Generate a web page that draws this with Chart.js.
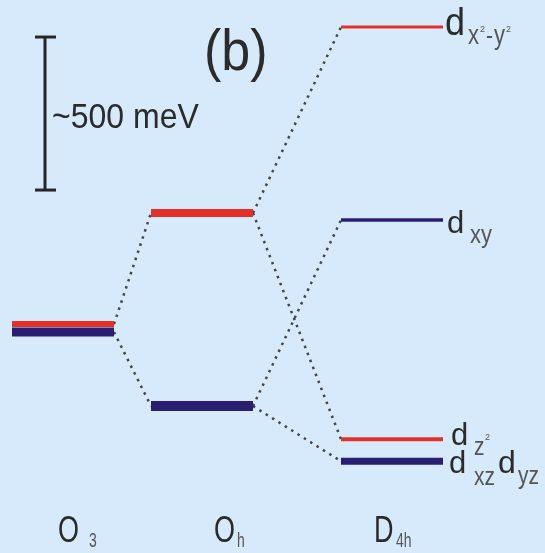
<!DOCTYPE html>
<html lang="en">
<head>
<meta charset="UTF-8">
<title>d-level splitting O3 / Oh / D4h</title>
<script src="https://cdn.jsdelivr.net/npm/chart.js@4"></script>
<style>
    body {
        margin: 0;
        padding: 0;
        background-color: #d6eafc;
    }
    .chart-box {
        width: 545px;
        height: 553px;
    }
</style>
</head>
<body>
<div class="chart-box"><canvas id="levelChart" width="545" height="553"></canvas></div>
<script>
// level energies in meV, zero = free ion (O3) level
const groups = ['O3', 'Oh', 'D4h'];
const o3Levels = [13, -13];                 // eg, t2g (drawn stacked)
const ohLevels = [376, -255];               // eg, t2g
const d4hLevels = [984, 353, -363, -435];   // dx2-y2, dxy, dz2, dxz/dyz
const scaleBar = [451, 951];                // ~500 meV

// which level joins which (group index, level index)
const links = [
    [[0, 0], [1, 0]],
    [[0, 1], [1, 1]],
    [[1, 0], [2, 0]],
    [[1, 0], [2, 2]],
    [[1, 1], [2, 1]],
    [[1, 1], [2, 3]]
];

// styles / layout
const RED = '#e5302a';
const BLUE = '#2a1e72';
const levelColors = [[RED, BLUE], [RED, BLUE], [RED, BLUE, RED, BLUE]];
const levelWidths = [[6, 9], [8, 10], [3, 3.5, 4, 7]];
const colLeft = [12, 151, 341];
const colWidth = 102;

const allLevels = [o3Levels, ohLevels, d4hLevels];
const datasets = [];

allLevels.forEach((lv, g) => {
    lv.forEach((e, i) => {
        datasets.push({
            data: [{ x: colLeft[g], y: e }, { x: colLeft[g] + colWidth, y: e }],
            borderColor: levelColors[g][i],
            borderWidth: levelWidths[g][i],
            borderCapStyle: 'butt',
            order: 0
        });
    });
});

links.forEach(([a, b]) => {
    datasets.push({
        data: [
            { x: colLeft[a[0]] + colWidth, y: allLevels[a[0]][a[1]] },
            { x: colLeft[b[0]], y: allLevels[b[0]][b[1]] }
        ],
        borderColor: '#454545',
        borderWidth: 2.5,
        borderDash: [2.5, 5],
        order: 2
    });
});

// scale bar + caps
datasets.push({ data: [{ x: 45, y: scaleBar[0] }, { x: 45, y: scaleBar[1] }], borderColor: '#262626', borderWidth: 3, order: 1 });
scaleBar.forEach(v => {
    datasets.push({ data: [{ x: 35, y: v }, { x: 56, y: v }], borderColor: '#262626', borderWidth: 3, order: 1 });
});

// text drawn after the chart: [text, x, baseline, size, yStretch, color]
const textPlugin = {
    id: 'texts',
    afterDraw(chart) {
        const ctx = chart.ctx;
        const yp = v => chart.scales.y.getPixelForValue(v);
        const dark = '#2b2b2b', sub = '#555555';
        const items = [
            ['(b)', 204, 70, 52, 1.1, dark],
            ['~500 meV', 52, 128, 32, 1.1, dark],
            // D4h labels
            ['d', 445, yp(d4hLevels[0]) + 8, 36, 1.07, dark],
            ['x', 468, yp(d4hLevels[0]) + 17, 22, 1.25, sub],
            ['2', 480, yp(d4hLevels[0]) + 5, 9, 1.1, sub],
            ['-', 486, yp(d4hLevels[0]) + 17, 21, 1.25, sub],
            ['y', 494, yp(d4hLevels[0]) + 17, 22, 1.25, sub],
            ['2', 506, yp(d4hLevels[0]) + 5, 9, 1.1, sub],
            ['d', 447, yp(d4hLevels[1]) + 13, 31, 1.0, dark],
            ['xy', 470, yp(d4hLevels[1]) + 23, 22, 1.2, sub],
            ['d', 451, yp(d4hLevels[2]) + 6, 31, 1.0, dark],
            ['z', 474, yp(d4hLevels[2]) + 16, 21, 1.2, sub],
            ['2', 485, yp(d4hLevels[2]) + 1, 9, 1.1, sub],
            ['d', 449, yp(d4hLevels[3]) + 12, 31, 1.0, dark],
            ['xz', 474, yp(d4hLevels[3]) + 24, 21, 1.2, sub],
            ['d', 498, yp(d4hLevels[3]) + 12, 32, 1.0, dark],
            ['yz', 518, yp(d4hLevels[3]) + 23, 21, 1.2, sub],
            // group names
            ['O', 58, 542, 27, 1.37, dark],
            ['3', 89, 547, 14, 1.4, sub],
            ['O', 214, 542, 27, 1.37, dark],
            ['h', 237, 547, 14, 1.4, sub],
            ['D', 374, 542, 27, 1.37, dark],
            ['4h', 396, 547, 14, 1.4, sub]
        ];
        ctx.save();
        ctx.textBaseline = 'alphabetic';
        ctx.textAlign = 'left';
        items.forEach(([t, x, y, s, sy, c]) => {
            ctx.save();
            ctx.translate(x, y);
            ctx.scale(1, sy);
            ctx.font = s + 'px "Liberation Sans", Arial, sans-serif';
            ctx.fillStyle = c;
            ctx.fillText(t, 0, 0);
            ctx.restore();
        });
        ctx.restore();
    }
};

new Chart(document.getElementById('levelChart'), {
    type: 'line',
    data: { datasets: datasets },
    options: {
        responsive: false,
        animation: false,
        events: [],
        layout: { padding: 0 },
        elements: { point: { radius: 0 }, line: { tension: 0, fill: false } },
        plugins: { legend: { display: false }, tooltip: { enabled: false } },
        scales: {
            x: { type: 'linear', min: 0, max: 545, display: false },
            y: { type: 'linear', min: -735, max: 1072, display: false }
        }
    },
    plugins: [textPlugin]
});
</script>
</body>
</html>
